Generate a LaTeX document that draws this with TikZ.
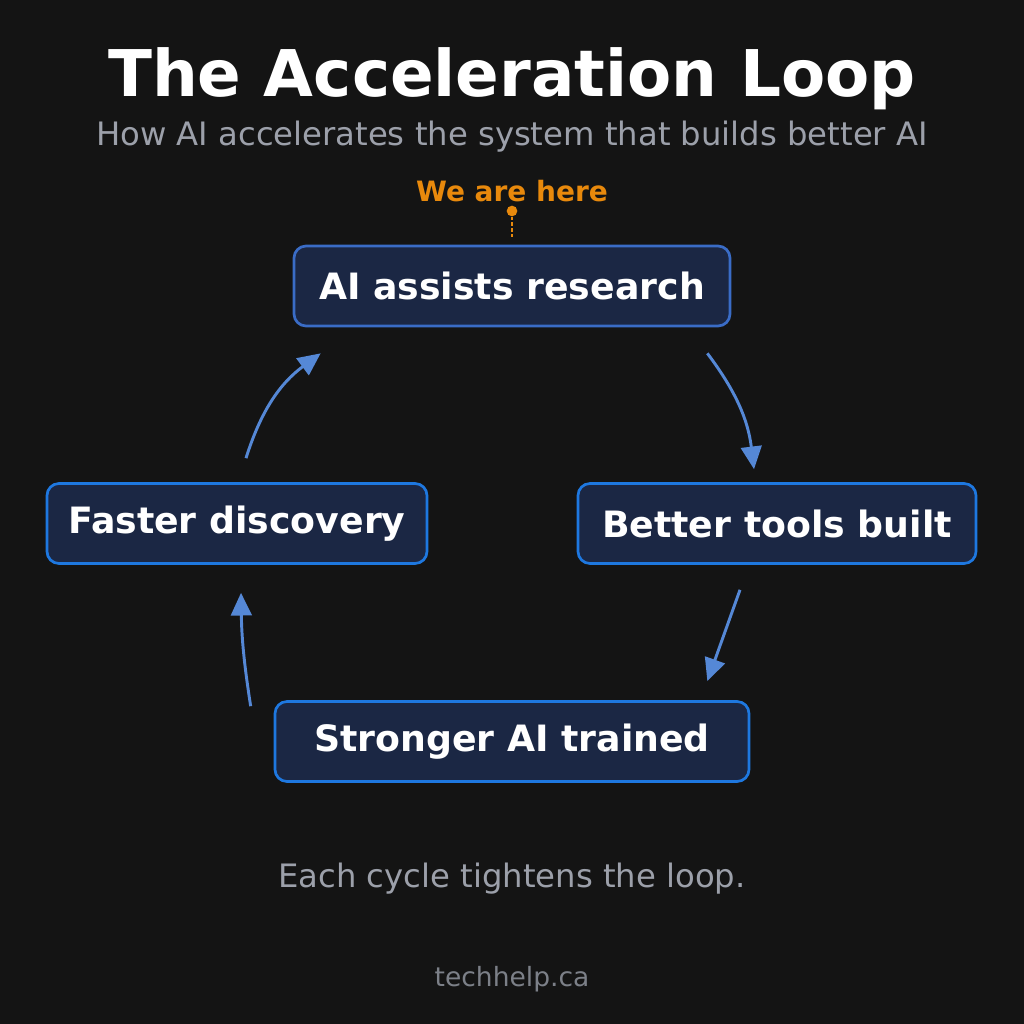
\documentclass[tikz,border=0pt]{standalone}
\usepackage{fontspec}
\setmainfont{DejaVu Sans}
\usetikzlibrary{arrows.meta,calc}
\definecolor{bgdark}{HTML}{141414}
\definecolor{stagefill}{HTML}{1B2744}
\definecolor{stageline}{HTML}{1E78E0}
\definecolor{topline}{HTML}{3A6CC6}
\definecolor{flowblue}{HTML}{5588D6}
\definecolor{herecol}{HTML}{E8890C}
\definecolor{subgray}{HTML}{9CA0AA}
\definecolor{footgray}{HTML}{7C8088}

\begin{document}
\begin{tikzpicture}[x=0.75pt, y=-0.75pt,
  stage/.style={draw=stageline, fill=stagefill, line width=2pt, rounded corners=9pt,
    minimum height=60pt, inner sep=0pt, text=white, font=\fontsize{27.2}{32}\selectfont\bfseries},
  flow/.style={flowblue, line width=2.2pt, -{Triangle[length=17pt,width=15.5pt]}}]
\fill[bgdark] (0,0) rectangle (1024,1024);
\node[text=white, font=\fontsize{48.3}{56}\selectfont\bfseries, anchor=base] (title) at (512,97) {The Acceleration Loop};
\node[text=subgray, font=\fontsize{24.2}{29}\selectfont, anchor=base] (subtitle) at (512,145) {How AI accelerates the system that builds better AI};
\node[text=herecol, font=\fontsize{21}{25}\selectfont\bfseries, anchor=base] (here) at (512,201) {We are here};
\node[stage, draw=topline, minimum width=327pt] (ai) at (512,286) {AI assists research};
\node[stage, minimum width=298.5pt] (tools) at (777,523.5) {Better tools built};
\node[stage, minimum width=355.5pt] (sai) at (512,741.5) {Stronger AI trained};
\node[stage, minimum width=285pt] (fast) at (237,523.5) {Faster discovery};
\fill[herecol] (512,211) circle (4pt) coordinate (dot);
\draw[herecol, line width=1.2pt, dash pattern=on 2.5pt off 1.8pt, shorten >=4.5pt] (dot) -- (ai.north);
\draw[flow] ($(ai.south east)+(-24,26)$) to[bend left=15] ($(tools.north)+(-23,-13)$);
\draw[flow] ($(tools.south)+(-37,25)$) -- ($(sai.north east)+(-43,-19)$);
\draw[flow] ($(sai.north west)+(-23,6)$) to[bend left=4] ($(fast.south)+(4,28)$);
\draw[flow] ($(fast.north)+(9,-24)$) to[bend left=18] ($(ai.south west)+(28,26)$);
\node[text=subgray, font=\fontsize{24.2}{29}\selectfont, anchor=base] (note) at (512,887) {Each cycle tightens the loop.};
\node[text=footgray, font=\fontsize{19.9}{24}\selectfont, anchor=base] (site) at (512,986) {techhelp.ca};
\end{tikzpicture}
\end{document}
